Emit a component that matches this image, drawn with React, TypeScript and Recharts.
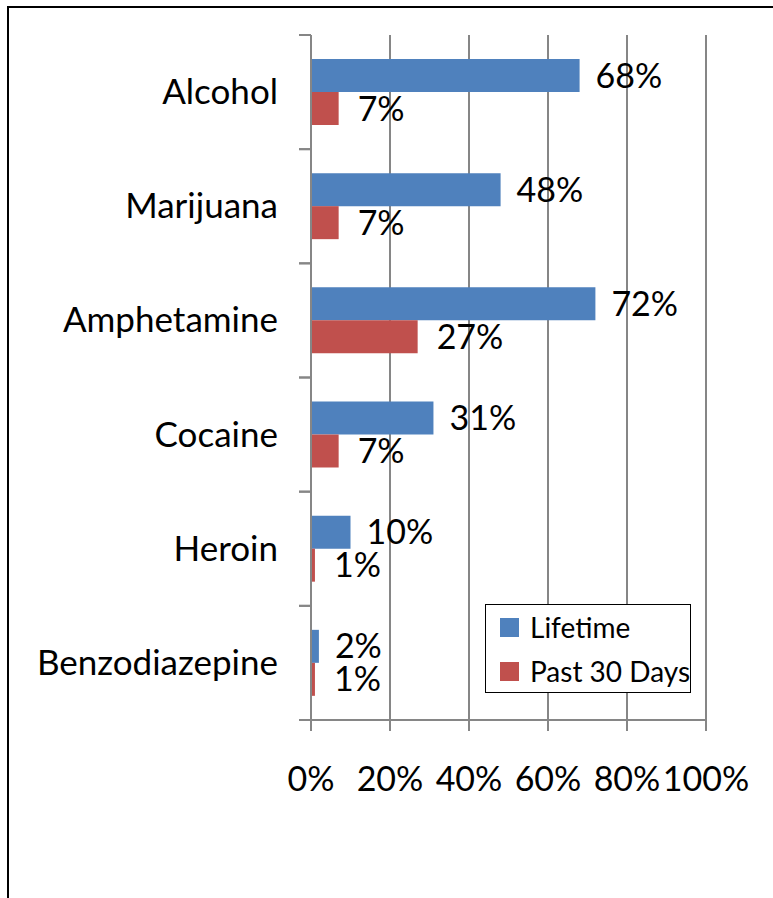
import { BarChart, Bar, XAxis, YAxis, CartesianGrid, Legend, LabelList } from 'recharts'

// Lifetime vs past-30-day use, horizontal bars (Excel style)

const CATEGORIES = ['Alcohol', 'Marijuana', 'Amphetamine', 'Cocaine', 'Heroin', 'Benzodiazepine']
const LIFETIME = [68, 48, 72, 31, 10, 2]
const PAST_30 = [7, 7, 27, 7, 1, 1]
const X_TICKS = [0, 20, 40, 60, 80, 100]

const BLUE = '#4f81bd'
const RED = '#c0504d'
const AXIS = '#868686'
const FONT = 'Lato, "Liberation Sans", sans-serif'

const data = CATEGORIES.map((name, i) => ({ name, lifetime: LIFETIME[i], past30: PAST_30[i] }))

const pct = (v: any) => `${v}%`

// category label + Excel-like tick marks at band boundaries
function CategoryTick(props: any) {
  const { x, y, payload } = props
  const half = payload?.offset ?? 57
  const ax = x + 33
  return (
    <g>
      <line x1={ax - 12} x2={ax} y1={y - half} y2={y - half} stroke={AXIS} strokeWidth={2} />
      <line x1={ax - 12} x2={ax} y1={y + half} y2={y + half} stroke={AXIS} strokeWidth={2} />
      <text x={x} y={y} dy={12} textAnchor="end" fontSize={35} fill="#000" fontFamily={FONT}>
        {payload.value}
      </text>
    </g>
  )
}

function LegendBox(props: any) {
  const items = props.payload ?? []
  return (
    <div
      style={{
        width: 204,
        height: 87,
        border: '1.5px solid #000',
        background: '#fff',
        fontFamily: FONT,
        fontSize: 28,
        color: '#000',
        boxSizing: 'content-box',
      }}
    >
      {items.map((it: any, i: number) => (
        <div key={i} style={{ display: 'flex', alignItems: 'center', height: 44, paddingLeft: 14 }}>
          <span style={{ width: 19, height: 19, background: it.color, display: 'inline-block', marginRight: 11, flex: 'none' }} />
          <span style={{ whiteSpace: 'nowrap' }}>{it.value}</span>
        </div>
      ))}
    </div>
  )
}

export default function App() {
  return (
    <div style={{ position: 'absolute', left: 0, top: 0, width: 773, height: 898, overflow: 'hidden', background: '#fff' }}>
      <div
        style={{
          position: 'absolute',
          left: 7,
          top: 6,
          width: 800,
          height: 920,
          border: '2px solid #000',
          boxSizing: 'border-box',
        }}
      />
      <div style={{ position: 'absolute', left: 0, top: 0 }}>
        <BarChart
          width={773}
          height={898}
          data={data}
          layout="vertical"
          margin={{ top: 35, right: 67, left: 0, bottom: 98 }}
          barCategoryGap={24}
          barGap={0}
        >
          <CartesianGrid vertical horizontal={false} stroke={AXIS} strokeWidth={2} strokeOpacity={1} />
          <XAxis
            type="number"
            domain={[0, 100]}
            ticks={X_TICKS}
            tickFormatter={pct}
            height={80}
            tickSize={11}
            tickMargin={36}
            axisLine={{ stroke: AXIS, strokeWidth: 2 }}
            tickLine={{ stroke: AXIS, strokeWidth: 2 }}
            tick={{ fontSize: 34, fill: '#000', fontFamily: FONT }}
            interval={0}
          />
          <YAxis
            type="category"
            dataKey="name"
            width={311}
            tickSize={12}
            tickMargin={21}
            tickLine={false}
            axisLine={{ stroke: AXIS, strokeWidth: 2 }}
            tick={<CategoryTick />}
            interval={0}
          />
          <Legend
            verticalAlign="middle"
            align="center"
            layout="vertical"
            content={<LegendBox />}
            wrapperStyle={{ position: 'absolute', left: 485, top: 604, width: 'auto', height: 'auto' }}
          />
          <Bar dataKey="lifetime" name="Lifetime" fill={BLUE} isAnimationActive={false}>
            <LabelList dataKey="lifetime" position="right" offset={16} formatter={pct} fontSize={34} fill="#000" fontFamily={FONT} />
          </Bar>
          <Bar dataKey="past30" name="Past 30 Days" fill={RED} isAnimationActive={false}>
            <LabelList dataKey="past30" position="right" offset={19} formatter={pct} fontSize={34} fill="#000" fontFamily={FONT} />
          </Bar>
        </BarChart>
      </div>
    </div>
  )
}
